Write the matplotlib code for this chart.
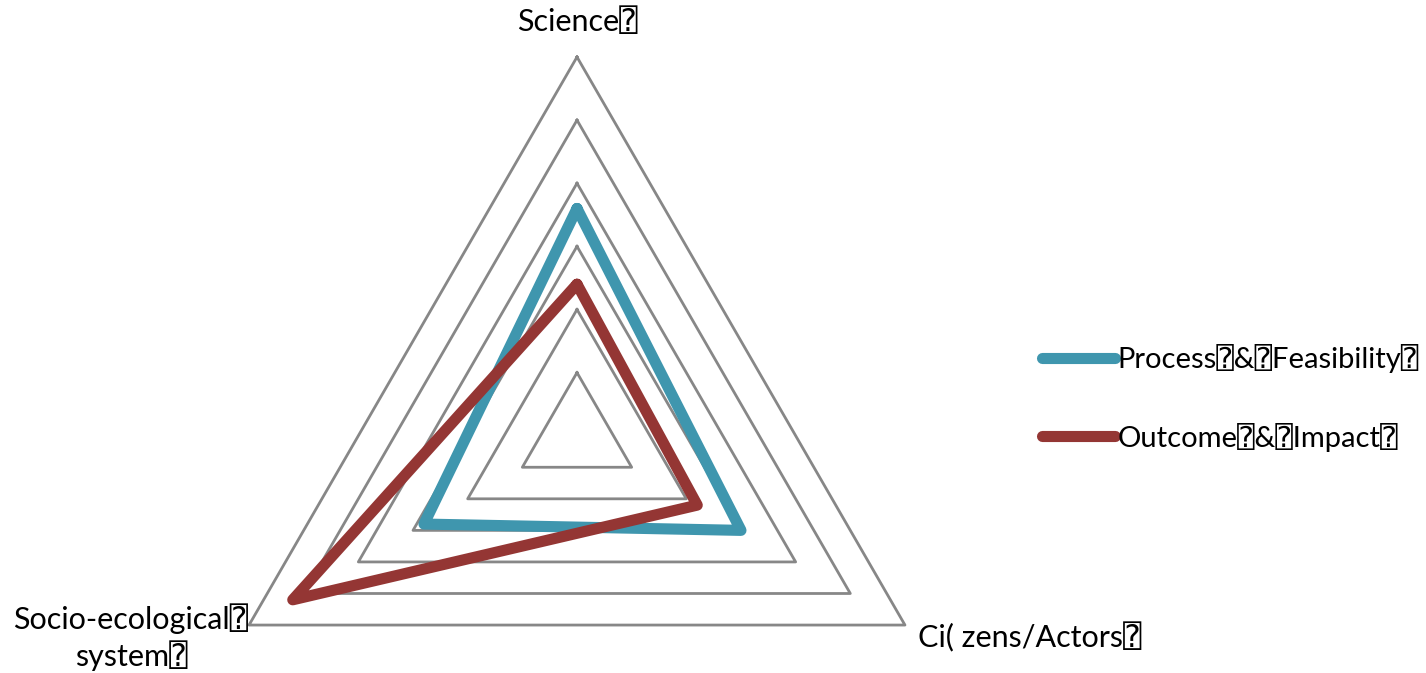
import numpy as np
import matplotlib
matplotlib.use("Agg")
import matplotlib.pyplot as plt

# radar axes (clockwise from top)
axes_labels = ["Science\u2370", "Ci( zens/Actors\u2370", "Socio-ecological\u2370\nsystem\u2370"]
process_feasibility = [3.6, 3.0, 2.8]
outcome_impact = [2.4, 2.2, 5.2]
series_names = ["Process\u2370&\u2370Feasibility\u2370", "Outcome\u2370&\u2370Impact\u2370"]
grid_levels = [1, 2, 3, 4, 5, 6]

blue = "#3F96AE"
red = "#943634"
grey = "#878787"
fonts = ["Lato", "DejaVu Sans", "DejaVu Sans Mono"]
plt.rcParams["font.family"] = fonts

W, H = 1426, 673
fig = plt.figure(figsize=(W / 100, H / 100), dpi=100)

# centre of the web and radius of the outer ring, in pixels
cx, cy, R = 577, 673 - 435.7, 378.7
ax = fig.add_axes([(cx - R) / W, (cy - R) / H, 2 * R / W, 2 * R / H], projection="polar")
ax.set_theta_offset(np.pi / 2)
ax.set_theta_direction(-1)
ax.set_ylim(0, grid_levels[-1])
ax.grid(False)
ax.spines["polar"].set_visible(False)
ax.set_xticks([])
ax.set_yticks([])
ax.patch.set_alpha(0)

angles = np.linspace(0, 2 * np.pi, len(axes_labels), endpoint=False)
closed = np.append(angles, angles[0])

for lvl in grid_levels:
    ax.plot(closed, [lvl] * len(closed), color=grey, lw=2.0, clip_on=False, zorder=1)

lines = []
for vals, col, name in [(process_feasibility, blue, series_names[0]),
                        (outcome_impact, red, series_names[1])]:
    v = np.append(vals, vals[0])
    ln, = ax.plot(closed, v, color=col, lw=8, solid_joinstyle="round",
                  solid_capstyle="round", clip_on=False, zorder=3, label=name)
    lines.append(ln)

fs = 22
fig.text(577 / W, 1 - 22 / H, axes_labels[0], ha="center", va="center", fontsize=fs)
fig.text(918 / W, 1 - 637 / H, axes_labels[1], ha="left", va="center", fontsize=fs)
fig.text(131 / W, 1 - 637 / H, axes_labels[2], ha="center", va="center", fontsize=fs,
         linespacing=1.25)

leg = fig.legend(handles=lines, loc="upper left", bbox_to_anchor=(1042 / W, 1 - 344 / H),
                 frameon=False, fontsize=21, handlelength=2.5, handletextpad=0.1,
                 labelspacing=1.7, borderaxespad=0, borderpad=0)
for h in leg.legend_handles:
    h.set_linewidth(8)

fig.savefig("out.png", dpi=100)
